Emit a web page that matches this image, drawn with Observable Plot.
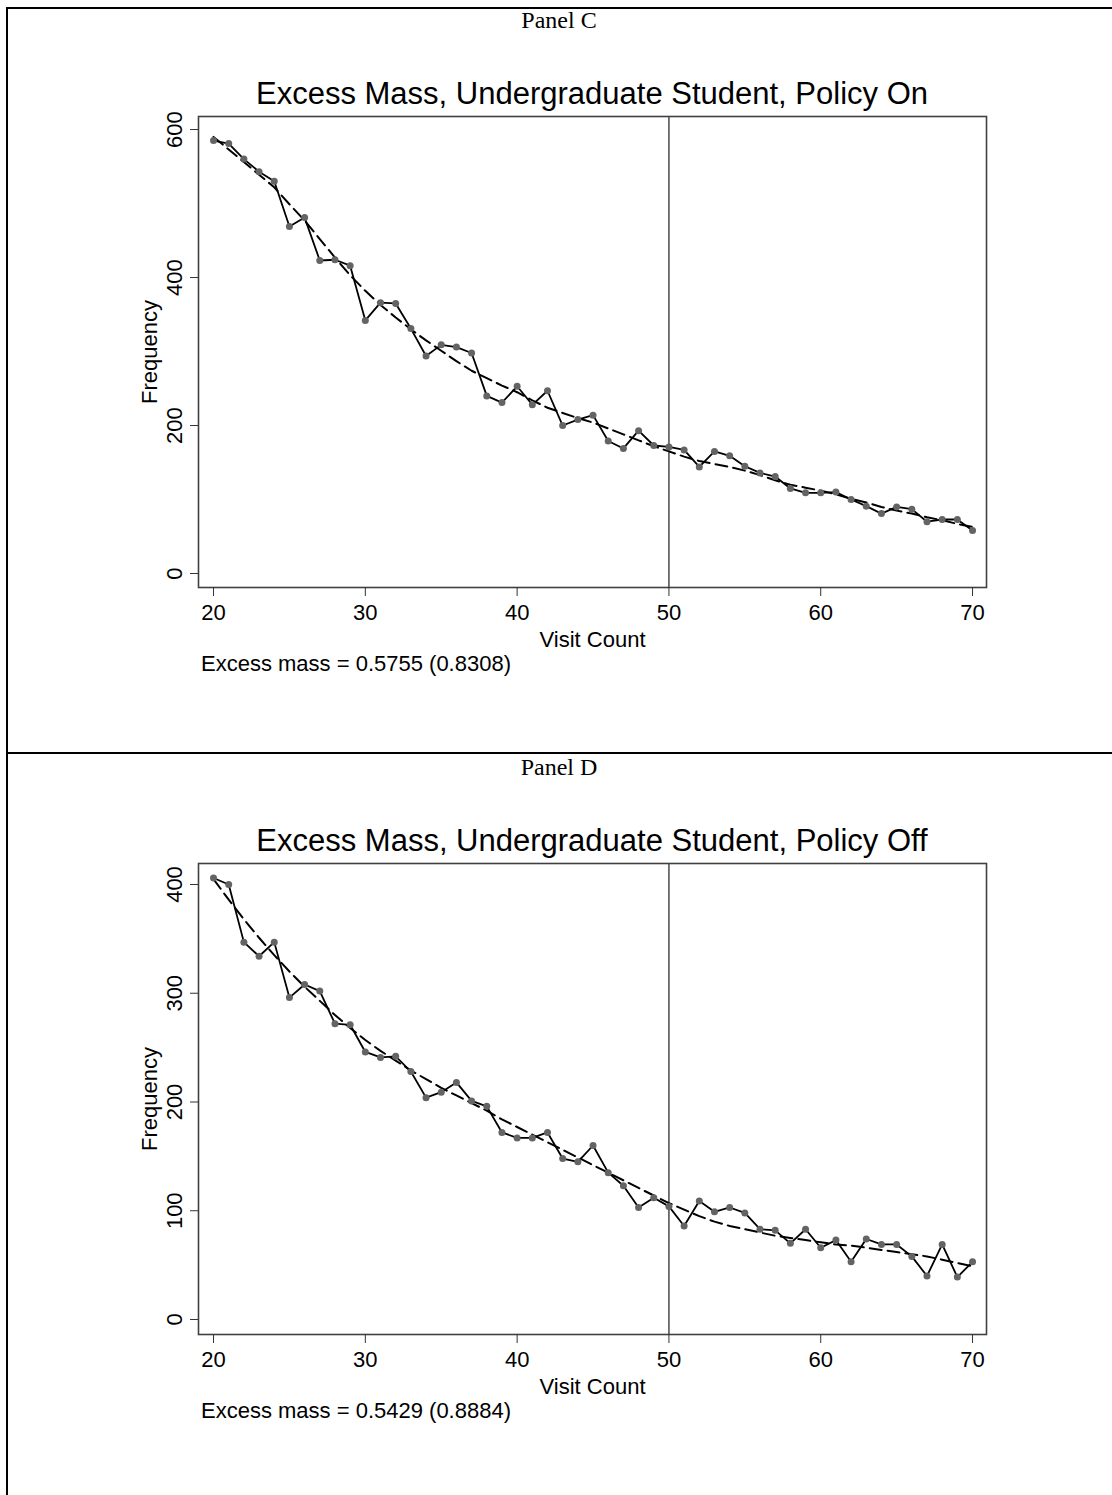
<!DOCTYPE html>
<html>
<head>
<meta charset="utf-8">
<script src="https://cdn.jsdelivr.net/npm/d3@7"></script>
<script src="https://cdn.jsdelivr.net/npm/@observablehq/plot@0.6"></script>
<style>
  html, body { margin: 0; padding: 0; background: #fff; }
  body { width: 1112px; height: 1495px; position: relative; overflow: hidden; }
  .rule { position: absolute; background: #000; }
  .txt { position: absolute; white-space: nowrap; color: #000; }
  .plot { position: absolute; }
</style>
</head>
<body>
<script>
// ---------------- data ----------------
const visits = [20,21,22,23,24,25,26,27,28,29,30,31,32,33,34,35,36,37,38,39,40,41,42,43,44,45,46,47,48,49,50,51,52,53,54,55,56,57,58,59,60,61,62,63,64,65,66,67,68,69,70];

// Panel C: Policy On
const freqOn = [585,581,560,543,530,469,481,423,424,416,342,366,365,331,294,309,306,298,240,231,253,228,247,200,208,214,179,169,193,173,171,167,144,165,159,145,136,131,115,109,109,110,100,91,81,90,87,70,73,73,58];
const fitOn  = [590,573,556,539,522,499,477,452,427,403,382,363,346,330,315,301,287,274,264,254,245,234,224,217,210,204,196,188,180,172,165,158,152,148,144,139,133,126,120,116,112,107,101,96,90,85,81,76,72,67,63];

// Panel D: Policy Off
const freqOff = [406,400,347,334,347,296,308,302,272,271,246,241,242,228,204,209,218,201,196,172,167,167,172,148,145,160,135,123,103,112,104,86,109,99,103,98,83,82,70,83,66,73,53,74,69,69,58,40,69,39,53];
const fitOff  = [405,386,368,351,335,320,306,293,280,268,257,247,238,229,221,213,206,199,192,184,177,170,163,156,149,142,135,128,121,114,107,101,95,90,86,83,80,77,75,73,71,69,68,66,64,62,60,58,55,52,49];

const xTicks = [20,30,40,50,60,70];
const yTicksOn = [0,200,400,600];
const yTicksOff = [0,100,200,300,400];
const cutoff = 50;

const panelLabels = ["Panel C", "Panel D"];
const titles = ["Excess Mass, Undergraduate Student, Policy On", "Excess Mass, Undergraduate Student, Policy Off"];
const captions = ["Excess mass = 0.5755 (0.8308)", "Excess mass = 0.5429 (0.8884)"];
const xLabel = "Visit Count";
const yLabel = "Frequency";

// ---------------- layout helpers ----------------
const SANS = "'Liberation Sans', Arial, Helvetica, sans-serif";
const SERIF = "'Liberation Serif', 'Times New Roman', Times, serif";

function rule(left, top, width, height) {
  const d = document.createElement("div");
  d.className = "rule";
  Object.assign(d.style, {left: left + "px", top: top + "px", width: width + "px", height: height + "px"});
  document.body.appendChild(d);
}

function addText(str, {x, baseline, size, family, align = "left"}) {
  const d = document.createElement("div");
  d.className = "txt";
  d.textContent = str;
  const k = family === SERIF ? 0.8375 : 0.8465;
  Object.assign(d.style, {
    fontFamily: family, fontSize: size + "px", lineHeight: size + "px",
    top: (baseline - k * size) + "px", left: x + "px"
  });
  if (align === "center") d.style.transform = "translateX(-50%)";
  document.body.appendChild(d);
}

function chart(freq, fit, yDomain, yTicks) {
  const rows = visits.map((v, i) => ({visit: v, freq: freq[i], fit: fit[i]}));
  return Plot.plot({
    width: 900,
    height: 557,
    marginLeft: 78,
    marginRight: 34,
    marginTop: 16,
    marginBottom: 70,
    style: {fontFamily: SANS, fontSize: "22px", color: "#000", background: "transparent", overflow: "visible"},
    x: {domain: [19.01, 70.92]},
    y: {domain: yDomain},
    marks: [
      Plot.ruleX([cutoff], {stroke: "#555", strokeWidth: 1.6}),
      Plot.line(rows, {x: "visit", y: "freq", stroke: "#000", strokeWidth: 1.8}),
      Plot.line(rows, {x: "visit", y: "fit", stroke: "#000", strokeWidth: 2, strokeDasharray: "12,6"}),
      Plot.dot(rows, {x: "visit", y: "freq", r: 3.5, fill: "#646464"}),
      Plot.frame({stroke: "#404040", strokeWidth: 1.6}),
      Plot.axisX({ticks: xTicks, tickSize: 9, tickPadding: 8, label: null, stroke: "#333", lineAnchor: "top", tickFormat: d => String(d)}),
      Plot.axisY({ticks: yTicks, tickSize: 8, tickPadding: 9, tickRotate: -90, textAnchor: "middle", lineAnchor: "bottom", label: null, stroke: "#333", tickFormat: d => String(d)}),
      Plot.text([xLabel], {frameAnchor: "bottom", dy: 59, lineAnchor: "bottom", text: d => d}),
      Plot.text([yLabel], {frameAnchor: "left", dx: -42, rotate: -90, lineAnchor: "bottom", textAnchor: "middle", text: d => d})
    ]
  });
}

function place(node, left, top) {
  node.classList.add("plot");
  node.style.left = left + "px";
  node.style.top = top + "px";
  document.body.appendChild(node);
}

// ---------------- page frame ----------------
rule(6, 7, 2, 1495);        // left border
rule(6, 7, 1112, 2);        // top border
rule(6, 752, 1112, 2);      // divider between panels

const OFF = 747;

// Panel C
addText(panelLabels[0], {x: 559, baseline: 28, size: 24, family: SERIF, align: "center"});
addText(titles[0], {x: 592, baseline: 104, size: 31, family: SANS, align: "center"});
place(chart(freqOn, fitOn, [-18.9, 617.6], yTicksOn), 120, 100);
addText(captions[0], {x: 201, baseline: 672, size: 22, family: SANS});

// Panel D
addText(panelLabels[1], {x: 559, baseline: 28 + OFF, size: 24, family: SERIF, align: "center"});
addText(titles[1], {x: 592, baseline: 104 + OFF, size: 31, family: SANS, align: "center"});
place(chart(freqOff, fitOff, [-13.8, 419.3], yTicksOff), 120, 100 + OFF);
addText(captions[1], {x: 201, baseline: 672 + OFF, size: 22, family: SANS});
</script>
</body>
</html>
